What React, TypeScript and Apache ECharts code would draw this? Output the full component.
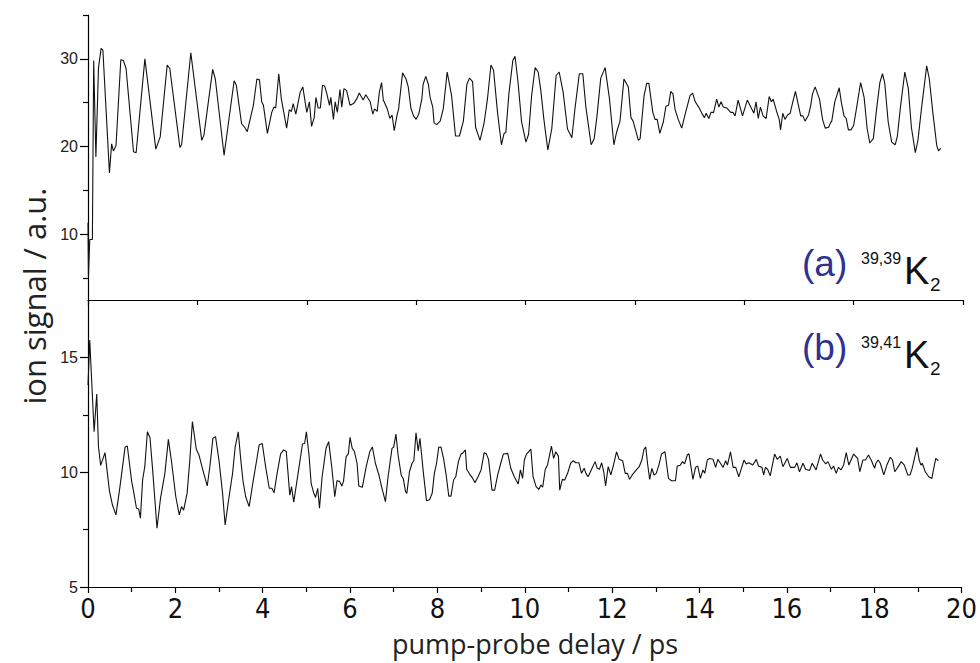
import React, { useEffect, useRef } from "react";
import * as echarts from "echarts";

// (a) 39,39K2 : delay (ps) and ion signal (a.u.)
const topT = [0.00,0.01,0.04,0.10,0.13,0.18,0.24,0.30,0.34,0.49,0.54,0.58,0.64,0.75,0.81,0.87,1.04,1.10,1.30,1.55,1.65,1.81,1.87,2.10,2.14,2.35,2.60,2.65,2.85,2.91,3.11,3.34,3.39,3.51,3.58,3.64,3.78,3.86,3.92,3.97,4.01,4.10,4.20,4.25,4.29,4.36,4.42,4.54,4.60,4.65,4.69,4.75,4.85,4.91,5.00,5.06,5.11,5.17,5.21,5.26,5.31,5.36,5.41,5.45,5.52,5.55,5.61,5.65,5.70,5.76,5.80,5.85,5.91,5.99,6.07,6.14,6.20,6.29,6.35,6.45,6.51,6.55,6.61,6.66,6.71,6.75,6.84,6.90,6.95,7.00,7.06,7.10,7.19,7.27,7.32,7.38,7.44,7.50,7.56,7.63,7.66,7.72,7.78,7.82,7.88,7.91,7.97,8.05,8.12,8.21,8.31,8.40,8.49,8.58,8.66,8.72,8.79,8.86,8.96,9.05,9.13,9.21,9.27,9.36,9.45,9.51,9.55,9.62,9.71,9.76,9.83,9.91,10.01,10.07,10.14,10.22,10.29,10.35,10.42,10.51,10.60,10.70,10.77,10.86,10.96,11.06,11.13,11.23,11.31,11.38,11.50,11.57,11.63,11.72,11.82,11.92,12.02,12.08,12.16,12.25,12.35,12.41,12.46,12.58,12.62,12.71,12.77,12.82,12.91,12.96,13.01,13.07,13.15,13.21,13.27,13.32,13.37,13.42,13.49,13.57,13.65,13.76,13.82,13.88,13.96,14.04,14.09,14.13,14.19,14.24,14.30,14.37,14.42,14.47,14.52,14.60,14.69,14.74,14.79,14.86,14.96,15.07,15.14,15.22,15.27,15.32,15.37,15.43,15.50,15.57,15.62,15.66,15.74,15.80,15.83,15.88,15.93,15.99,16.05,16.11,16.17,16.23,16.29,16.34,16.39,16.47,16.52,16.56,16.62,16.72,16.79,16.85,16.93,16.97,17.00,17.07,17.17,17.22,17.28,17.33,17.38,17.44,17.50,17.57,17.66,17.74,17.81,17.87,17.95,18.03,18.10,18.16,18.21,18.29,18.37,18.45,18.50,18.57,18.67,18.75,18.82,18.91,18.97,19.05,19.17,19.23,19.31,19.40,19.44,19.49];
const topV = [11.3,5.1,9.4,9.4,29.8,18.8,29.0,31.2,31.0,17.0,20.3,19.5,20.1,29.9,29.8,28.9,19.4,19.3,30.0,19.7,21.1,29.3,28.9,19.9,20.2,30.7,20.7,21.3,28.8,27.7,19.0,27.5,27.0,22.6,22.2,21.7,24.7,27.7,27.6,25.1,24.7,21.5,23.9,24.5,24.4,28.3,25.4,22.1,24.2,24.0,24.9,23.7,26.2,26.8,23.9,25.1,22.3,23.3,25.6,24.4,24.4,27.0,26.9,26.2,24.7,25.6,23.1,25.1,23.9,26.5,24.5,26.6,26.4,24.7,24.9,25.4,26.1,25.3,25.9,25.1,23.7,24.3,24.0,26.2,27.3,25.3,24.3,23.2,23.6,21.8,23.5,24.3,28.4,27.7,26.8,24.4,23.5,23.1,23.7,25.4,27.1,28.0,27.1,25.6,24.5,22.7,22.5,22.9,24.3,28.5,25.8,21.2,21.2,22.9,27.1,27.8,27.4,22.2,20.7,22.6,25.4,29.3,28.7,23.9,20.2,21.5,21.6,26.0,29.8,30.3,27.3,22.8,20.5,21.4,25.8,29.0,28.5,26.4,23.1,19.6,22.0,28.1,28.5,26.2,22.0,21.0,24.3,28.3,28.3,24.5,20.2,20.9,23.3,27.8,29.0,25.4,20.2,21.6,22.9,27.7,26.8,23.3,22.9,20.7,20.9,25.8,27.2,27.2,23.9,23.1,23.1,21.5,22.8,24.6,24.7,26.3,26.0,24.2,23.1,22.1,23.7,25.8,26.1,25.1,24.5,23.7,23.3,23.8,23.2,23.9,23.9,25.4,24.5,25.1,24.5,24.4,23.9,23.9,23.5,25.3,23.5,25.3,24.6,23.8,25.1,23.2,24.5,23.5,23.2,25.7,25.1,25.4,24.0,23.1,21.9,23.8,23.1,23.6,23.8,25.1,26.3,24.9,23.5,23.5,22.9,23.6,24.7,26.0,26.8,25.4,23.1,22.1,22.2,22.7,22.9,25.1,26.7,25.0,23.5,23.2,21.9,21.9,22.4,24.5,27.3,25.6,22.0,20.4,20.9,24.5,27.3,28.3,27.3,22.8,20.5,20.2,21.2,24.5,28.5,26.6,22.2,19.3,20.7,24.3,29.2,27.7,23.9,20.1,19.5,19.8];

// (b) 39,41K2
const botT = [0.00,0.04,0.14,0.20,0.24,0.29,0.39,0.49,0.56,0.64,0.72,0.85,0.90,1.00,1.04,1.11,1.16,1.20,1.25,1.30,1.36,1.42,1.48,1.58,1.66,1.76,1.84,1.91,2.01,2.09,2.14,2.19,2.27,2.33,2.39,2.48,2.54,2.65,2.73,2.79,2.86,2.92,3.00,3.08,3.14,3.22,3.31,3.37,3.44,3.50,3.55,3.61,3.69,3.78,3.86,3.92,3.99,4.07,4.15,4.21,4.26,4.33,4.41,4.48,4.54,4.62,4.66,4.71,4.81,4.91,4.96,5.00,5.06,5.11,5.17,5.21,5.26,5.30,5.36,5.45,5.51,5.58,5.65,5.70,5.76,5.81,5.85,5.91,5.96,6.00,6.05,6.10,6.16,6.20,6.28,6.37,6.45,6.51,6.58,6.66,6.73,6.81,6.87,6.96,7.00,7.05,7.10,7.17,7.22,7.27,7.30,7.36,7.42,7.46,7.51,7.56,7.60,7.68,7.75,7.82,7.88,7.93,7.98,8.03,8.08,8.14,8.20,8.26,8.31,8.37,8.42,8.48,8.54,8.59,8.64,8.67,8.75,8.81,8.86,8.93,9.00,9.07,9.12,9.17,9.25,9.31,9.38,9.45,9.51,9.61,9.68,9.76,9.85,9.90,9.95,9.99,10.04,10.14,10.19,10.26,10.32,10.37,10.41,10.47,10.52,10.61,10.66,10.71,10.77,10.80,10.86,10.91,10.98,11.05,11.11,11.17,11.24,11.30,11.36,11.40,11.45,11.53,11.61,11.66,11.71,11.76,11.81,11.85,11.91,11.97,12.03,12.10,12.16,12.24,12.30,12.35,12.40,12.46,12.54,12.62,12.68,12.73,12.77,12.81,12.86,12.91,12.96,13.01,13.07,13.13,13.21,13.29,13.36,13.45,13.49,13.56,13.61,13.66,13.72,13.76,13.85,13.91,13.96,14.02,14.08,14.12,14.18,14.23,14.31,14.37,14.42,14.48,14.54,14.60,14.64,14.71,14.77,14.83,14.90,15.02,15.07,15.13,15.22,15.30,15.35,15.43,15.47,15.51,15.56,15.62,15.72,15.78,15.85,15.91,16.01,16.08,16.18,16.23,16.29,16.37,16.43,16.52,16.58,16.67,16.77,16.82,16.89,16.94,17.02,17.07,17.13,17.18,17.24,17.30,17.36,17.42,17.53,17.62,17.67,17.74,17.80,17.87,17.93,18.01,18.04,18.09,18.14,18.22,18.29,18.37,18.42,18.47,18.54,18.62,18.69,18.77,18.82,18.87,18.98,19.03,19.07,19.10,19.17,19.25,19.32,19.36,19.41,19.47];
const botV = [13.8,15.76,11.76,13.4,11.1,10.3,10.85,9.2,8.57,8.14,9.2,11.1,11.14,9.6,9.2,8.43,8.4,8.0,9.66,10.24,11.76,11.5,10.1,7.56,8.86,9.95,11.43,10.5,8.93,8.14,8.5,8.35,9.1,10.5,12.2,11.0,10.75,9.95,9.4,10.25,11.48,11.55,10.5,9.1,7.7,8.8,9.95,11.1,11.76,10.5,9.6,8.93,8.5,9.6,10.5,11.2,11.25,10.2,9.3,9.3,9.1,9.95,10.8,10.97,10.9,9.0,9.37,8.7,9.95,11.23,11.25,11.76,10.75,9.5,9.08,8.9,9.3,8.43,9.8,11.04,11.33,10.24,8.93,9.63,9.6,9.4,9.6,10.68,10.8,11.52,11.04,10.9,10.39,9.4,9.34,10.24,10.89,11.1,10.39,9.88,9.3,8.72,9.8,11.04,11.1,11.66,10.75,9.88,9.7,9.15,9.08,10.02,10.39,10.5,11.72,10.93,11.48,9.95,8.76,8.8,9.08,9.95,10.39,11.08,11.1,10.6,9.88,8.96,8.96,9.66,9.8,10.46,10.79,10.85,10.97,10.13,9.88,9.73,9.54,9.8,10.1,10.85,10.8,10.56,9.22,9.22,9.88,10.39,10.79,10.82,10.17,9.8,9.49,10.1,9.73,10.53,10.79,11.0,9.8,9.37,9.25,9.44,9.35,10.13,10.31,11.14,10.6,10.89,10.7,9.22,9.69,9.65,9.95,10.39,10.5,10.41,10.41,9.95,10.17,9.95,9.8,10.13,10.46,10.17,10.13,10.41,10.0,9.4,10.24,9.88,10.3,10.89,10.56,10.5,9.95,9.95,9.69,9.88,10.07,10.24,10.53,11.0,11.1,10.39,9.69,10.17,9.88,9.95,10.31,10.79,10.89,9.73,9.63,9.63,10.27,10.3,10.46,10.36,10.75,10.8,9.69,10.21,10.27,9.73,10.1,9.95,10.53,10.6,10.56,10.21,10.56,10.39,10.21,10.5,10.31,10.89,10.21,10.21,9.8,10.53,10.36,10.41,10.31,10.56,10.27,10.21,9.88,10.21,10.13,9.84,10.79,10.56,10.7,10.24,10.6,10.21,10.21,10.41,10.02,10.39,10.13,10.07,10.39,10.1,10.79,10.53,10.36,10.46,10.13,10.27,9.95,10.21,10.1,10.31,10.85,10.31,10.79,10.6,10.02,10.53,10.53,10.75,10.53,10.17,10.39,10.53,10.39,9.88,10.31,10.65,10.53,10.02,10.21,10.46,10.31,9.88,9.88,10.17,11.08,10.53,10.31,10.39,10.02,9.8,9.73,10.13,10.6,10.5];

const xTicksBottom = [0, 20, 2];
const topLabels = [10, 20, 30];
const topMinor = [5, 15, 25, 35];
const botLabels = [5, 10, 15];
const botMinor = [7.5, 12.5];

const SANS = "'Liberation Sans', Arial, Helvetica, sans-serif";
const NARROW = "'Liberation Sans Narrow', 'DejaVu Sans Condensed', 'Liberation Sans', sans-serif";
const MYRIAD = "'Open Sans', 'Noto Sans', sans-serif";
const BLUE = "#2e3192";

export default function App() {
  const ref = useRef<HTMLDivElement>(null);
  useEffect(() => {
    if (!ref.current) return;
    const chart = echarts.init(ref.current, null, { renderer: "svg" });
    const topData = topT.map((t, i) => [t, topV[i]]);
    const botData = botT.map((t, i) => [t, botV[i]]);
    const axisLine = { show: true, lineStyle: { color: "#000", width: 1.2 } };
    const tickStyle = { color: "#000", width: 1.2 };
    chart.setOption({
      animation: false,
      backgroundColor: "#fff",
      grid: [
        { left: 88, top: 15, width: 875, height: 285 },
        { left: 88, top: 300, width: 875, height: 287 },
      ],
      xAxis: [
        {
          type: "value", gridIndex: 0, min: 0, max: 20, interval: 2.5,
          axisLine, axisTick: { show: true, length: 5, lineStyle: tickStyle },
          axisLabel: { show: false }, splitLine: { show: false },
        },
        {
          type: "value", gridIndex: 1, min: xTicksBottom[0], max: xTicksBottom[1], interval: xTicksBottom[2],
          axisLine, axisTick: { show: true, length: 6, lineStyle: tickStyle },
          minorTick: { show: true, splitNumber: 2, length: 5, lineStyle: tickStyle },
          axisLabel: { show: true, margin: 8, fontSize: 27, lineHeight: 27, fontFamily: NARROW, color: "#111" },
          splitLine: { show: false },
        },
      ],
      yAxis: [
        {
          type: "value", gridIndex: 0, min: 2.5, max: 35, position: "left",
          axisLine,
          axisTick: { show: true, length: 8, lineStyle: tickStyle, customValues: topLabels },
          axisLabel: { show: true, margin: 10, fontSize: 16, fontFamily: SANS, color: "#222", customValues: topLabels },
          splitLine: { show: false },
        },
        {
          type: "value", gridIndex: 0, min: 2.5, max: 35, position: "left", offset: 0,
          axisLine: { show: false },
          axisTick: { show: true, length: 5, lineStyle: tickStyle, customValues: topMinor },
          axisLabel: { show: false },
          splitLine: { show: false },
        },
        {
          type: "value", gridIndex: 1, min: 5, max: 17.5, position: "left",
          axisLine,
          axisTick: { show: true, length: 8, lineStyle: tickStyle, customValues: botLabels },
          axisLabel: { show: true, margin: 10, fontSize: 16, fontFamily: SANS, color: "#222", customValues: botLabels },
          splitLine: { show: false },
        },
        {
          type: "value", gridIndex: 1, min: 5, max: 17.5, position: "left", offset: 0,
          axisLine: { show: false },
          axisTick: { show: true, length: 5, lineStyle: tickStyle, customValues: botMinor },
          axisLabel: { show: false },
          splitLine: { show: false },
        },
      ],
      series: [
        {
          type: "line", xAxisIndex: 0, yAxisIndex: 0, data: topData,
          showSymbol: false, symbol: "none", lineStyle: { color: "#111", width: 1.1 },
        },
        {
          type: "line", xAxisIndex: 1, yAxisIndex: 2, data: botData,
          showSymbol: false, symbol: "none", lineStyle: { color: "#111", width: 1.1 },
        },
      ],
      graphic: [
        {
          type: "text", x: 34, y: 296, rotation: Math.PI / 2,
          style: { text: "ion signal / a.u.", font: `31px ${MYRIAD}`, fill: "#222", textAlign: "center", textVerticalAlign: "middle" },
        },
        {
          type: "text", x: 535, y: 643,
          style: { text: "pump-probe delay / ps", font: `27px ${MYRIAD}`, fill: "#222", textAlign: "center", textVerticalAlign: "middle" },
        },
        { type: "text", x: 802, y: 263, style: { text: "(a)", font: `37px ${SANS}`, fill: BLUE, textAlign: "left", textVerticalAlign: "middle" } },
        { type: "text", x: 861, y: 258, style: { text: "39,39", font: `16px ${SANS}`, fill: "#111", textAlign: "left", textVerticalAlign: "middle" } },
        { type: "text", x: 904, y: 271, style: { text: "K", font: `38px ${SANS}`, fill: "#111", textAlign: "left", textVerticalAlign: "middle" } },
        { type: "text", x: 930, y: 284, style: { text: "2", font: `19px ${SANS}`, fill: "#111", textAlign: "left", textVerticalAlign: "middle" } },
        { type: "text", x: 802, y: 347, style: { text: "(b)", font: `37px ${SANS}`, fill: BLUE, textAlign: "left", textVerticalAlign: "middle" } },
        { type: "text", x: 861, y: 342, style: { text: "39,41", font: `16px ${SANS}`, fill: "#111", textAlign: "left", textVerticalAlign: "middle" } },
        { type: "text", x: 904, y: 355, style: { text: "K", font: `38px ${SANS}`, fill: "#111", textAlign: "left", textVerticalAlign: "middle" } },
        { type: "text", x: 930, y: 368, style: { text: "2", font: `19px ${SANS}`, fill: "#111", textAlign: "left", textVerticalAlign: "middle" } },
      ],
    });
    return () => chart.dispose();
  }, []);
  return (
    <div
      ref={ref}
      style={{ position: "fixed", left: 0, top: 0, width: 980, height: 663, background: "#fff" }}
    />
  );
}
